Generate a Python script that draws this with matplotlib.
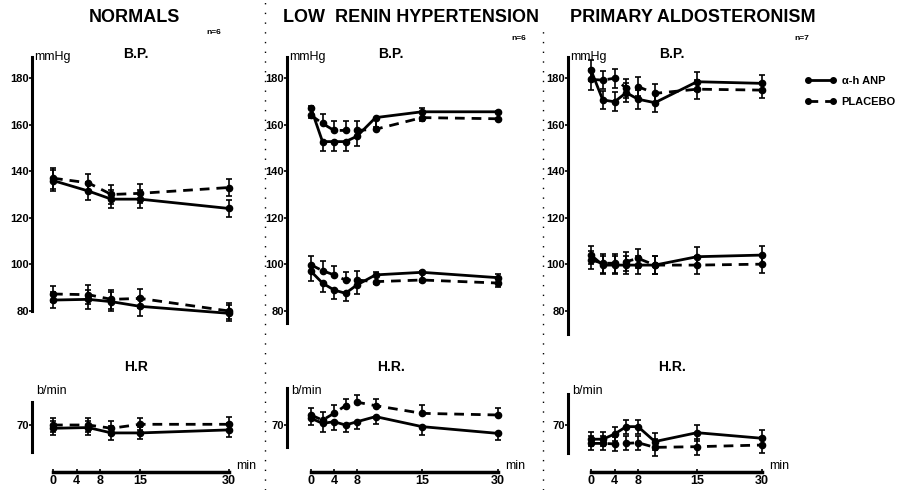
import numpy as np
import matplotlib
matplotlib.use("Agg")
import matplotlib.pyplot as plt
from matplotlib.lines import Line2D

plt.rcParams['font.family'] = ['Liberation Sans', 'DejaVu Sans']

# ---- data ----
t_norm = [0, 6, 10, 15, 30]
t_lr = [0, 2, 4, 6, 8, 10, 15, 30]
t_pa = [0, 2, 4, 6, 8, 10, 15, 30]

# normals, n=6
norm_sys_anp = [136, 131.5, 128, 128, 124]
norm_sys_pla = [137, 135, 130, 130.5, 133]
norm_dia_anp = [84.7, 85, 84, 82, 79]
norm_dia_pla = [87.3, 87, 85, 85.4, 80]
norm_hr_anp = [68.6, 68.9, 66.6, 66.6, 67.9]
norm_hr_pla = [70, 70, 68.6, 70.3, 70.3]
norm_sys_err = [4.5, 4, 4, 4, 3.5]
norm_dia_err = [3.5, 4, 4, 4, 3.5]
norm_hr_err = [3, 3, 3, 2.5, 3]

# low renin hypertension, n=6
lr_sys_anp = [167, 152.7, 152.7, 152.7, 155, 163, 165.5, 165.5]
lr_sys_pla = [164, 160.5, 157.5, 157.5, 157.5, 158, 163, 162.5]
lr_dia_anp = [97, 92, 89, 87.6, 91.2, 95.5, 96.6, 94.3]
lr_dia_pla = [99.8, 97.3, 95.5, 93.3, 93.3, 92.6, 93.3, 92]
lr_hr_anp = [72.9, 70.7, 71.4, 70, 71.4, 73.6, 69.3, 66.4]
lr_hr_pla = [74.3, 72.1, 75, 78.3, 79.8, 78.3, 75, 74.3]
lr_sys_err = [4, 4, 4, 4, 4, 4, 4, 3.5]
lr_dia_err = [4, 4, 4, 3.5, 4, 4, 4, 4]
lr_hr_err = [3, 3.5, 3.5, 3, 3, 3, 3.5, 3]

# primary aldosteronism, n=7
pa_sys_anp = [183.4, 170.6, 169.8, 173.7, 170.9, 169.4, 178.4, 177.7]
pa_sys_pla = [179.4, 179.1, 179.9, 175.6, 176.3, 173.4, 175.2, 174.8]
pa_dia_anp = [104, 99.7, 99.7, 99.7, 99.7, 99.7, 103.3, 104]
pa_dia_pla = [101.9, 100.5, 100.5, 101.2, 102.6, 99.7, 99.7, 100.1]
pa_hr_anp = [63.9, 63.9, 66.1, 69.3, 69.3, 62.9, 66.7, 64.3]
pa_hr_pla = [62.1, 62.1, 61.9, 62.1, 62.4, 60.4, 60.7, 61.4]
pa_sys_err = [4.5, 4, 4, 4, 4, 4, 4, 3.5]
pa_dia_err = [4, 4, 4, 4, 4, 4, 4, 4]
pa_hr_err = [3, 3, 3, 3, 3, 3.5, 3.5, 3.5]

bp_ticks = [80, 100, 120, 140, 160, 180]
hr_ticks = [70]
time_ticks = [0, 4, 8, 15, 30]

# ---- layout (pixels of a 910x490 canvas) ----
W, H = 910, 490
fig = plt.figure(figsize=(W / 100, H / 100), dpi=100)

# hand drawn time axes are not linear: pixel of t = 0, 8, 15, 30
time_anchor_t = [0, 8, 15, 30]
panels = [
    dict(title='NORMALS', n='n=6', bp_label='B.P.', hr_label='H.R', spine=32, right=250,
         px=[53, 100, 140, 229], title_x=134, n_xy=(214, 33), bp_y=(80, 189), hr_y=(58.5, 80),
         t=t_norm, sys=(norm_sys_anp, norm_sys_pla), dia=(norm_dia_anp, norm_dia_pla),
         hr=(norm_hr_anp, norm_hr_pla), err=(norm_sys_err, norm_dia_err, norm_hr_err),
         side=('both', 'both')),
    dict(title='LOW  RENIN HYPERTENSION', n='n=6', bp_label='B.P.', hr_label='H.R.', spine=287, right=520,
         px=[311, 357, 422, 498], title_x=411, n_xy=(519, 38), bp_y=(75, 189), hr_y=(60.5, 86),
         t=t_lr, sys=(lr_sys_anp, lr_sys_pla), dia=(lr_dia_anp, lr_dia_pla),
         hr=(lr_hr_anp, lr_hr_pla), err=(lr_sys_err, lr_dia_err, lr_hr_err),
         side=('down', 'up')),
    dict(title='PRIMARY ALDOSTERONISM', n='n=7', bp_label='B.P.', hr_label='H.R.', spine=568, right=790,
         px=[591, 638, 697, 762], title_x=693, n_xy=(802, 38), bp_y=(70, 189), hr_y=(58, 83.5),
         t=t_pa, sys=(pa_sys_anp, pa_sys_pla), dia=(pa_dia_anp, pa_dia_pla),
         hr=(pa_hr_anp, pa_hr_pla), err=(pa_sys_err, pa_dia_err, pa_hr_err),
         side=('both', 'both')),
]

DASH = (0, (3.5, 2.5))


def px_axes(left, top, right, bottom):
    return fig.add_axes([left / W, 1 - bottom / H, (right - left) / W, (bottom - top) / H])


def time_scale(px):
    t = np.array(time_anchor_t, float)
    p = np.array(px, float)
    s0 = (p[1] - p[0]) / (t[1] - t[0])
    s1 = (p[-1] - p[-2]) / (t[-1] - t[-2])
    ta = np.concatenate([[t[0] - 100], t, [t[-1] + 100]])
    pa = np.concatenate([[p[0] - 100 * s0], p, [p[-1] + 100 * s1]])
    fwd = lambda x: np.interp(x, ta, pa)
    inv = lambda u: np.interp(u, pa, ta)
    return fwd, inv


def yerr_for(err, side):
    e = np.array(err)
    z = np.zeros_like(e)
    if side == 'up':
        return [z, e]
    if side == 'down':
        return [e, z]
    return [e, e]


def series(ax, t, y, err, dashed, side):
    ls = DASH if dashed else '-'
    ax.errorbar(t, y, yerr=yerr_for(err, side), color='black', lw=2, ls=ls,
                marker='o', ms=4.5, elinewidth=1.2, capsize=2, capthick=1.2)


def fig_text(x, y, s, **kw):
    fig.text(x / W, 1 - y / H, s, **kw)


# B.P scale: 180 at y=78 px, 80 at y=311 px
bp_px = 2.33
hr_px = 2.33

for p in panels:
    fwd, inv = time_scale(p['px'])
    side_s, side_d = p['side']

    # ---- blood pressure ----
    ax = px_axes(p['spine'], 50, p['right'], 345)
    ax.set_xscale('function', functions=(fwd, inv))
    ax.set_xlim(inv(p['spine']), inv(p['right']))
    ax.set_ylim(180 - (345 - 78) / bp_px, 180 - (50 - 78) / bp_px)
    for sp in ['top', 'right', 'bottom']:
        ax.spines[sp].set_visible(False)
    ax.spines['left'].set_linewidth(2.2)
    ax.spines['left'].set_bounds(*p['bp_y'])
    ax.set_xticks([])
    ax.set_yticks(bp_ticks)
    ax.tick_params(axis='y', length=2, width=1.2, pad=0, labelsize=8)
    for lab in ax.get_yticklabels():
        lab.set_fontweight('bold')
    series(ax, p['t'], p['sys'][0], p['err'][0], False, side_s)
    series(ax, p['t'], p['sys'][1], p['err'][0], True, side_d)
    series(ax, p['t'], p['dia'][0], p['err'][1], False, side_s)
    series(ax, p['t'], p['dia'][1], p['err'][1], True, side_d)

    # ---- heart rate ----
    ah = px_axes(p['spine'], 380, p['right'], 472)
    ah.set_xscale('function', functions=(fwd, inv))
    ah.set_xlim(inv(p['spine']), inv(p['right']))
    ah.set_ylim(70 - 47 / hr_px, 70 + 45 / hr_px)
    for sp in ['top', 'right']:
        ah.spines[sp].set_visible(False)
    ah.spines['left'].set_linewidth(2.2)
    ah.spines['left'].set_bounds(*p['hr_y'])
    ah.spines['bottom'].set_linewidth(2.5)
    ah.spines['bottom'].set_bounds(0, 30)
    ah.set_yticks(hr_ticks)
    ah.set_xticks(time_ticks)
    ah.set_xticklabels([str(v) for v in time_ticks])
    ah.tick_params(axis='y', length=2, width=1.2, pad=0, labelsize=8)
    ah.tick_params(axis='x', length=2, width=1.2, direction='in', pad=2, labelsize=9)
    for lab in ah.get_yticklabels() + ah.get_xticklabels():
        lab.set_fontweight('bold')
    series(ah, p['t'], p['hr'][0], p['err'][2], False, side_s)
    series(ah, p['t'], p['hr'][1], p['err'][2], True, side_d)
    ah.annotate('min', xy=(30, ah.get_ylim()[0]), xytext=(5, 0), textcoords='offset points',
                ha='left', va='bottom', fontsize=9)

    # ---- texts ----
    fig_text(p['title_x'], 18, p['title'], ha='center', va='center', fontsize=13, fontweight='bold')
    fig_text(*p['n_xy'], p['n'], ha='center', va='center', fontsize=6, fontweight='bold')
    fig_text(p['spine'] + 2, 57, 'mmHg', ha='left', va='center', fontsize=9)
    fig_text(p['spine'] + 104, 54, p['bp_label'], ha='center', va='center', fontsize=10, fontweight='bold')
    fig_text(p['spine'] + 104, 367, p['hr_label'], ha='center', va='center', fontsize=10, fontweight='bold')
    fig_text(p['spine'] + 4, 391, 'b/min', ha='left', va='center', fontsize=9)

# dotted separators between the three groups
for x, y0 in [(265, 0), (543, 30)]:
    fig.add_artist(Line2D([x / W, x / W], [0, 1 - y0 / H], transform=fig.transFigure,
                          color='black', lw=1, ls=(0, (1, 6))))

# legend
handles = [Line2D([], [], color='black', lw=2, marker='o', ms=4),
           Line2D([], [], color='black', lw=2, ls=DASH, marker='o', ms=4)]
leg = fig.legend(handles, ['α-h ANP', 'PLACEBO'], numpoints=2, frameon=False,
                 loc='upper left', bbox_to_anchor=(795 / W, 1 - 66 / H), handlelength=2.8,
                 handletextpad=0.5, labelspacing=1.0, prop={'size': 8, 'weight': 'bold'})

fig.savefig('out.png', dpi=100)
